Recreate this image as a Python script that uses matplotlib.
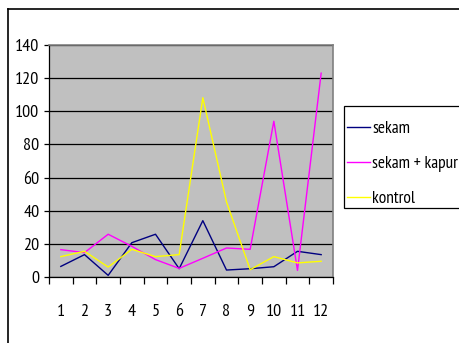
import matplotlib
matplotlib.use('Agg')
import matplotlib.pyplot as plt
from matplotlib.patches import Rectangle
from matplotlib.lines import Line2D
import numpy as np

plt.rcParams['font.family'] = ['PT Sans Narrow', 'Liberation Sans', 'DejaVu Sans']

days = list(range(1, 13))
sekam = [6.4, 13.5, 1, 20.7, 25.8, 5, 34, 4.2, 5, 6.2, 15.5, 13.5]
sekam_kapur = [16.5, 14.7, 25.8, 18.5, 10.5, 5.2, 11.3, 17.5, 16.7, 94, 4, 123]
kontrol = [12.3, 15.5, 6, 16.7, 12.3, 13.5, 108.2, 45.3, 4.4, 12.3, 8.5, 9.5]

series = [('sekam', sekam, '#000080'),
          ('sekam + kapur', sekam_kapur, '#FF00FF'),
          ('kontrol', kontrol, '#FFFF00')]

W, H = 459, 343
fig = plt.figure(figsize=(W / 100, H / 100), dpi=100)
fig.patch.set_facecolor('white')

# outer chart border (only left and top show)
fig.add_artist(Line2D([8 / W, 8 / W], [0, 1 - 9 / H], color='black', lw=1.2))
fig.add_artist(Line2D([8 / W, 1], [1 - 9 / H, 1 - 9 / H], color='black', lw=1.2))

ax = fig.add_axes([49 / W, 66 / H, 284 / W, 232 / H])
ax.set_facecolor('#C0C0C0')

for name, vals, col in series:
    ax.plot(days, vals, color=col, lw=1.0, label=name, zorder=3)

ax.set_xlim(0.5, 12.5)
ax.set_ylim(0, 140)
ax.set_yticks(np.arange(0, 141, 20))
ax.yaxis.grid(True, color='black', lw=0.9)
ax.set_axisbelow(True)

ax.set_xticks(days)
ax.set_xticks(np.arange(0.5, 12.6, 1), minor=True)
ax.tick_params(axis='x', which='major', length=0, pad=19.5, labelsize=13)
ax.tick_params(axis='x', which='minor', length=5, width=0.9, color='black')
ax.tick_params(axis='y', length=3.5, width=0.9, pad=3.5, labelsize=13)

for side in ('left', 'bottom'):
    ax.spines[side].set_color('black')
    ax.spines[side].set_linewidth(0.9)
for side in ('top', 'right'):
    ax.spines[side].set_color('#808080')
    ax.spines[side].set_linewidth(1.2)

# legend box running off the right edge
fig.add_artist(Rectangle((344 / W, 1 - 208 / H), 130 / W, 102 / H,
                         transform=fig.transFigure, facecolor='white',
                         edgecolor='black', lw=0.9, clip_on=False))
handles, labels = ax.get_legend_handles_labels()
fig.legend(handles, labels, loc='center left',
           bbox_to_anchor=(347 / W, 1 - 164 / H), frameon=False,
           borderpad=0, borderaxespad=0, handlelength=1.35,
           handletextpad=0.1, labelspacing=1.1, fontsize=12.5)

fig.savefig('out.png', dpi=100)
